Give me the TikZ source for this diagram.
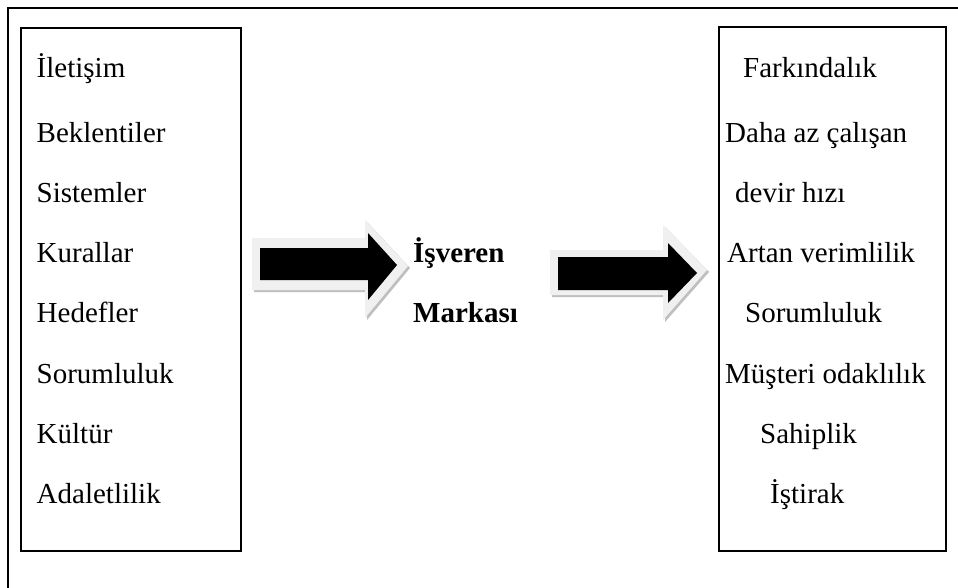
\documentclass[tikz,border=0pt]{standalone}
\usepackage{fontspec}
\setmainfont{Liberation Serif}
\begin{document}
\begin{tikzpicture}[x=1pt,y=-1pt,
  frame/.style={draw=black,line width=2.4pt},
  panel/.style={frame,anchor=north west,inner sep=0pt},
  item/.style={anchor=base west,inner sep=0pt,font=\fontsize{29}{34}\selectfont},
  keyword/.style={item,font=\fontsize{29}{34}\selectfont\bfseries},
  arrowrim/.style={fill=gray!12},
  arrowshade/.style={fill=gray!50},
  arrowcore/.style={fill=black}]
\clip (0,0) rectangle (958,587);
\fill[white] (0,0) rectangle (958,587);

% outer frame (runs past the right and bottom edges)
\draw[frame] (8,8) rectangle (990,620);

% the two lists
\node[panel,minimum width=220pt,minimum height=523pt] (causes) at (20,27) {};
\node[panel,minimum width=227pt,minimum height=524pt] (effects) at (718,26) {};

\node[item] (c1) at (36.5,77) {İletişim};
\node[item] (c2) at (36.5,142) {Beklentiler};
\node[item] (c3) at (36.5,202) {Sistemler};
\node[item] (c4) at (36.5,262) {Kurallar};
\node[item] (c5) at (36.5,322) {Hedefler};
\node[item] (c6) at (36.5,383) {Sorumluluk};
\node[item] (c7) at (36.5,443) {Kültür};
\node[item] (c8) at (36.5,503) {Adaletlilik};

\node[item] (e1) at (743,77) {Farkındalık};
\node[item] (e2) at (725,142) {Daha az çalışan};
\node[item] (e3) at (735,202) {devir hızı};
\node[item] (e4) at (727,262) {Artan verimlilik};
\node[item] (e5) at (745,322) {Sorumluluk};
\node[item] (e6) at (725,383) {Müşteri odaklılık};
\node[item] (e7) at (760,443) {Sahiplik};
\node[item] (e8) at (770,503) {İştirak};

% central label
\node[keyword] (brand1) at (413,262) {İşveren};
\node[keyword] (brand2) at (413,322) {Markası};

% left block arrow
\fill[arrowshade,shift={(2,2)}] (252,238) -- (365,238) -- (365,220) -- (408,266) -- (365,318) -- (365,290) -- (252,290) -- cycle;
\fill[arrowrim] (252,238) -- (365,238) -- (365,220) -- (408,266) -- (365,318) -- (365,290) -- (252,290) -- cycle;
\fill[arrowcore] (260,248) -- (368,248) -- (368,233) -- (397,265) -- (368,300) -- (368,280) -- (260,280) -- cycle;

% right block arrow
\fill[arrowshade,shift={(2,2)}] (550,250) -- (663,250) -- (663,225) -- (707,270) -- (663,320) -- (663,295) -- (550,295) -- cycle;
\fill[arrowrim] (550,250) -- (663,250) -- (663,225) -- (707,270) -- (663,320) -- (663,295) -- (550,295) -- cycle;
\fill[arrowcore] (558,257) -- (668,257) -- (668,243) -- (697,273) -- (668,303) -- (668,290) -- (558,290) -- cycle;
\end{tikzpicture}
\end{document}
